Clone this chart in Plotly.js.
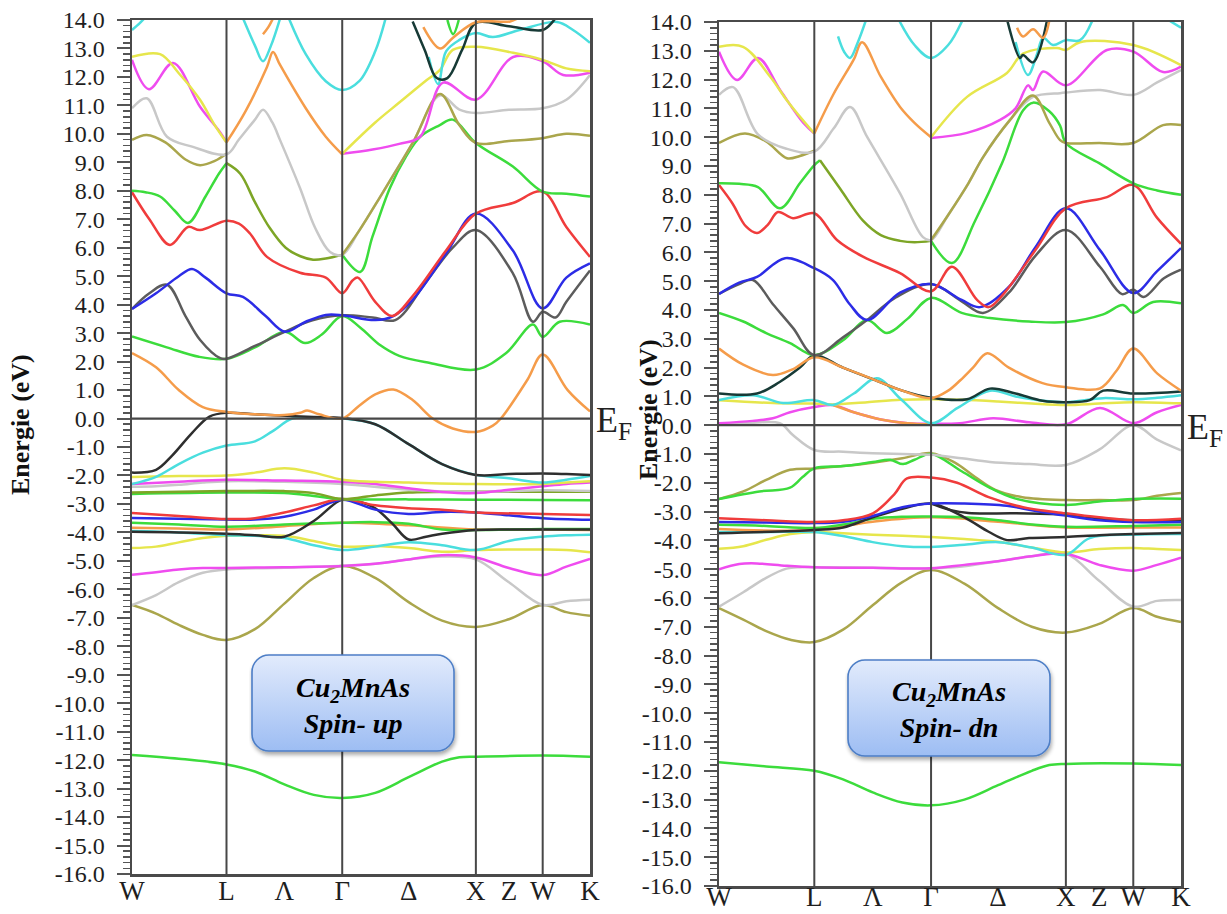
<!DOCTYPE html>
<html>
<head>
<meta charset="utf-8">
<script src="https://cdn.plot.ly/plotly-3.0.1.min.js"></script>
<style>html,body{margin:0;padding:0;background:#fff}#chart{width:1227px;height:914px}</style>
</head>
<body>
<div id="chart"></div>
<script>
// ---------- k-path (high-symmetry points) ----------
const kTickVals = [0, 0.707, 1.14, 1.573, 2.07, 2.573, 2.82, 3.073, 3.427];
const kTickText = ['W', 'L', 'Λ', 'Γ', 'Δ', 'X', 'Z', 'W', 'K'];
const kLines = [0.707, 1.573, 2.573, 3.073];
const eRange = [-16, 14];

// ---------- Spin-up bands: [k, E(eV)] ----------
const up_green_low = [[0,-11.82],[0.35,-11.95],[0.707,-12.15],[0.92,-12.4],[1.14,-12.85],[1.36,-13.22],[1.573,-13.33],[1.82,-13.15],[2.07,-12.6],[2.32,-12.05],[2.45,-11.9],[2.573,-11.88],[3.073,-11.84],[3.427,-11.88]];
const up_khaki_low = [[0,-6.55],[0.18,-6.85],[0.35,-7.25],[0.53,-7.6],[0.707,-7.78],[0.92,-7.4],[1.14,-6.5],[1.36,-5.6],[1.573,-5.18],[1.82,-5.6],[2.07,-6.45],[2.32,-7.1],[2.573,-7.32],[2.82,-7.05],[3.073,-6.55],[3.25,-6.8],[3.427,-6.93]];
const up_gray_low = [[0,-6.55],[0.18,-6.2],[0.35,-5.75],[0.53,-5.42],[0.707,-5.3],[1.14,-5.24],[1.573,-5.17],[1.82,-5.1],[2.07,-4.95],[2.32,-4.85],[2.573,-4.95],[2.82,-5.75],[3.073,-6.55],[3.25,-6.42],[3.427,-6.37]];
const up_magenta_low = [[0,-5.49],[0.18,-5.4],[0.35,-5.3],[0.53,-5.25],[0.707,-5.25],[1.14,-5.22],[1.573,-5.18],[1.82,-5.1],[2.07,-4.95],[2.32,-4.8],[2.573,-4.88],[2.82,-5.25],[3.073,-5.5],[3.25,-5.2],[3.427,-4.93]];
const up_yellow_low = [[0,-4.55],[0.18,-4.5],[0.35,-4.35],[0.53,-4.2],[0.707,-4.12],[0.92,-4.1],[1.14,-4.12],[1.36,-4.3],[1.573,-4.5],[1.82,-4.48],[2.07,-4.55],[2.32,-4.68],[2.573,-4.62],[2.82,-4.6],[3.073,-4.6],[3.25,-4.62],[3.427,-4.7]];
const up_cyan_low = [[0,-3.95],[0.35,-4.0],[0.707,-4.1],[0.92,-4.12],[1.14,-4.2],[1.36,-4.45],[1.573,-4.62],[1.82,-4.5],[2.07,-4.35],[2.32,-4.45],[2.573,-4.62],[2.82,-4.3],[3.073,-4.15],[3.25,-4.1],[3.427,-4.08]];
const up_black_low = [[0,-3.98],[0.35,-4.0],[0.707,-4.05],[0.92,-4.1],[1.14,-4.15],[1.36,-3.6],[1.573,-2.85],[1.72,-2.95],[1.82,-3.15],[1.95,-3.7],[2.07,-4.25],[2.2,-4.15],[2.32,-4.05],[2.573,-3.92],[2.82,-3.9],[3.073,-3.9],[3.427,-3.9]];
const up_orange_mid = [[0,-3.84],[0.35,-3.86],[0.707,-3.9],[1.14,-3.78],[1.573,-3.66],[2.07,-3.75],[2.573,-3.9],[3.073,-3.9],[3.427,-3.92]];
const up_green_mid = [[0,-3.66],[0.35,-3.72],[0.707,-3.8],[1.14,-3.72],[1.573,-3.66],[1.82,-3.64],[2.07,-3.7],[2.32,-3.9],[2.573,-3.92],[3.073,-3.88],[3.427,-3.88]];
const up_blue_low = [[0,-3.49],[0.35,-3.52],[0.707,-3.55],[0.92,-3.55],[1.14,-3.45],[1.36,-3.2],[1.573,-2.85],[1.82,-3.2],[2.07,-3.35],[2.32,-3.28],[2.573,-3.3],[2.82,-3.4],[3.073,-3.5],[3.427,-3.56]];
const up_red_low = [[0,-3.32],[0.35,-3.42],[0.707,-3.53],[0.92,-3.5],[1.14,-3.3],[1.36,-3.05],[1.573,-2.83],[1.82,-3.05],[2.07,-3.15],[2.32,-3.2],[2.573,-3.3],[3.073,-3.35],[3.427,-3.39]];
const up_green_2 = [[0,-2.65],[0.707,-2.6],[1.14,-2.62],[1.36,-2.72],[1.573,-2.83],[2.07,-2.84],[2.573,-2.85],[3.073,-2.86],[3.427,-2.87]];
const up_olivegreen_low = [[0,-2.6],[0.707,-2.55],[1.14,-2.55],[1.36,-2.62],[1.573,-2.83],[1.82,-2.7],[2.07,-2.6],[2.573,-2.57],[3.073,-2.57],[3.427,-2.57]];
const up_gray_2 = [[0,-2.4],[0.18,-2.38],[0.35,-2.33],[0.53,-2.25],[0.707,-2.2],[1.14,-2.22],[1.573,-2.3],[2.07,-2.5],[2.573,-2.58],[3.073,-2.52],[3.427,-2.55]];
const up_magenta_2 = [[0,-2.3],[0.35,-2.22],[0.707,-2.15],[1.14,-2.18],[1.573,-2.22],[1.82,-2.3],[2.07,-2.45],[2.32,-2.58],[2.573,-2.62],[2.82,-2.5],[3.073,-2.38],[3.25,-2.3],[3.427,-2.25]];
const up_yellow_2 = [[0,-2.05],[0.35,-2.02],[0.707,-2.0],[0.92,-1.9],[1.14,-1.75],[1.36,-1.9],[1.573,-2.15],[1.82,-2.22],[2.07,-2.25],[2.573,-2.3],[3.073,-2.3],[3.25,-2.25],[3.427,-2.2]];
const up_cyan_2 = [[0,-2.3],[0.18,-2.05],[0.35,-1.6],[0.53,-1.2],[0.707,-0.95],[0.92,-0.8],[1.05,-0.45],[1.2,0.0],[1.36,0.02],[1.573,0.0],[1.82,-0.2],[2.07,-0.9],[2.32,-1.6],[2.573,-1.98],[2.82,-2.1],[3.073,-2.25],[3.25,-2.15],[3.427,-2.02]];
const up_black_1 = [[0,-1.9],[0.18,-1.8],[0.3,-1.3],[0.45,-0.5],[0.58,0.07],[0.707,0.2],[0.92,0.15],[1.14,0.1],[1.36,0.05],[1.573,0.02],[1.82,-0.2],[2.07,-0.9],[2.32,-1.6],[2.573,-1.98],[2.82,-1.95],[3.073,-1.93],[3.25,-1.95],[3.427,-1.98]];
const up_orange_low = [[0,2.3],[0.18,1.8],[0.35,1.0],[0.53,0.4],[0.707,0.23],[0.92,0.15],[1.14,0.12],[1.26,0.2],[1.31,0.28],[1.4,0.15],[1.573,0.0],[1.7,0.45],[1.82,0.85],[1.955,1.02],[2.1,0.65],[2.25,0.0],[2.4,-0.35],[2.573,-0.47],[2.7,-0.25],[2.76,0.0],[2.96,1.37],[3.073,2.25],[3.26,1.0],[3.427,0.25]];
const up_green_c = [[0,2.88],[0.26,2.5],[0.5,2.17],[0.707,2.1],[0.92,2.5],[1.145,3.05],[1.295,2.65],[1.42,2.95],[1.573,3.6],[1.707,3.2],[1.856,2.58],[2.0,2.2],[2.23,1.95],[2.573,1.72],[2.8,2.3],[3.0,3.3],[3.073,2.87],[3.2,3.4],[3.427,3.3]];
const up_darkgray_c = [[0,3.85],[0.13,4.4],[0.262,4.7],[0.4,3.6],[0.51,2.76],[0.66,2.12],[0.707,2.1],[0.92,2.55],[1.145,3.05],[1.35,3.45],[1.573,3.63],[1.8,3.55],[1.97,3.46],[2.2,4.8],[2.4,6.0],[2.573,6.62],[2.85,5.1],[3.0,3.4],[3.073,3.75],[3.17,3.55],[3.25,4.1],[3.427,5.2]];
const up_blue_c = [[0,3.85],[0.18,4.4],[0.35,5.0],[0.449,5.25],[0.55,4.95],[0.707,4.4],[0.83,4.27],[1.0,3.6],[1.145,3.05],[1.3,3.4],[1.45,3.64],[1.573,3.63],[1.82,3.46],[1.955,3.6],[2.1,4.17],[2.35,5.8],[2.573,7.2],[2.85,5.9],[3.073,3.87],[3.25,4.95],[3.427,5.45]];
const up_red_c = [[0,7.95],[0.13,7.0],[0.284,6.1],[0.419,6.73],[0.509,6.62],[0.707,6.95],[0.8,6.85],[0.883,6.5],[1.01,5.68],[1.257,5.12],[1.45,4.95],[1.573,4.4],[1.65,4.85],[1.69,4.95],[1.82,4.1],[1.946,3.6],[2.1,4.3],[2.35,5.9],[2.573,7.2],[2.85,7.57],[3.073,7.97],[3.25,6.73],[3.427,5.68]];
const up_green_a = [[0,8.0],[0.1,7.95],[0.21,7.8],[0.32,7.3],[0.419,6.87],[0.55,7.8],[0.65,8.6],[0.707,8.97]];
const up_olivegreen_a = [[0.707,8.97],[0.81,8.6],[0.92,7.6],[1.03,6.7],[1.15,6.0],[1.26,5.7],[1.355,5.58],[1.45,5.62],[1.573,5.75]];
const up_green_b = [[1.573,5.75],[1.707,5.15],[1.8,6.4],[1.93,8.1],[2.05,9.2],[2.156,9.9],[2.3,10.3],[2.4,10.5],[2.573,9.68],[2.85,8.85],[3.073,7.97],[3.25,7.9],[3.427,7.8]];
const up_khaki_a = [[0,9.79],[0.11,9.96],[0.25,9.7],[0.4,9.1],[0.509,8.9],[0.62,9.05],[0.707,9.3]];
const up_khaki_b = [[1.573,5.75],[1.7,6.6],[1.856,7.78],[2.1,9.68],[2.305,11.4],[2.45,10.3],[2.573,9.68],[2.82,9.75],[3.073,9.85],[3.25,10.0],[3.427,9.93]];
const up_gray_high = [[0,10.9],[0.11,11.25],[0.262,9.9],[0.45,9.55],[0.707,9.28],[0.8,9.8],[0.92,10.5],[0.981,10.85],[1.05,10.4],[1.108,9.78],[1.257,8.1],[1.37,6.7],[1.482,5.85],[1.573,5.75],[1.7,6.6],[1.856,7.78],[2.1,9.68],[2.305,11.35],[2.45,10.85],[2.573,10.73],[2.82,10.85],[3.073,10.9],[3.25,11.2],[3.427,12.07]];
const up_magenta_high = [[0,12.6],[0.127,11.57],[0.307,12.49],[0.509,10.95],[0.66,10.05],[0.707,9.7],[1.0,null],[1.573,9.3],[1.8,9.45],[2.0,9.65],[2.156,9.9],[2.328,11.8],[2.573,11.2],[2.852,12.7],[3.073,12.55],[3.226,12.07],[3.427,12.15]];
const up_yellow_high = [[0,12.71],[0.21,12.8],[0.35,12.13],[0.509,11.2],[0.62,10.3],[0.707,9.7],[1.0,null],[1.573,9.3],[1.82,10.4],[2.0,11.1],[2.208,11.9],[2.305,12.25],[2.4,12.95],[2.573,13.06],[2.852,12.85],[3.073,12.6],[3.25,12.3],[3.427,12.2]];
const up_orange_high = [[0.707,9.7],[0.85,10.8],[1.01,12.35],[1.055,12.88],[1.108,12.42],[1.3,10.9],[1.45,9.9],[1.573,9.28]];
const up_cyan_top = [[0,13.65],[0.06,13.9],[0.12,14.2],[0.2,null],[0.8,14.4],[0.92,13.1],[0.98,12.55],[1.04,13.1],[1.13,14.4],[1.15,null],[1.17,14.1],[1.3,12.8],[1.45,11.85],[1.573,11.54],[1.7,11.85],[1.82,12.9],[1.9,14.1]];
const up_cyan_x = [[2.22,12.7],[2.29,11.75],[2.35,12.9],[2.45,13.3],[2.573,13.54],[2.7,13.4],[2.9,13.65],[3.18,13.93],[3.3,13.65],[3.427,13.2]];
const up_teal = [[2.1,13.95],[2.19,12.95],[2.28,11.96],[2.36,11.96],[2.47,12.95],[2.573,13.9],[2.82,13.78],[3.073,13.65],[3.15,13.95],[3.2,14.3]];
const up_orange_top = [[0.98,13.5],[1.02,13.75],[1.06,14.1],[1.1,null],[2.18,13.75],[2.305,13.0],[2.4,13.37],[2.573,13.92],[2.83,13.95],[2.9,14.1]];
const up_green_top = [[2.36,14.0],[2.403,13.5],[2.445,14.0]];

// ---------- Spin-down bands: [k, E(eV)] ----------
const dn_green_low = [[0,-11.7],[0.35,-11.85],[0.707,-12.0],[0.92,-12.3],[1.14,-12.75],[1.36,-13.1],[1.573,-13.2],[1.82,-13.0],[2.07,-12.5],[2.32,-12.0],[2.45,-11.8],[2.573,-11.76],[3.073,-11.75],[3.427,-11.8]];
const dn_khaki_low = [[0,-6.35],[0.18,-6.75],[0.35,-7.15],[0.53,-7.45],[0.707,-7.53],[0.92,-7.1],[1.14,-6.25],[1.36,-5.45],[1.573,-5.03],[1.82,-5.5],[2.07,-6.35],[2.32,-7.0],[2.573,-7.2],[2.82,-6.9],[3.073,-6.35],[3.25,-6.65],[3.427,-6.83]];
const dn_gray_low = [[0,-6.3],[0.18,-5.8],[0.35,-5.3],[0.5,-4.98],[0.6,-4.93],[0.707,-4.93],[1.14,-4.95],[1.573,-4.97],[1.82,-4.9],[2.07,-4.72],[2.32,-4.55],[2.573,-4.46],[2.82,-5.4],[3.073,-6.3],[3.25,-6.1],[3.427,-6.07]];
const dn_magenta_low = [[0,-5.0],[0.15,-4.82],[0.28,-4.8],[0.5,-4.88],[0.707,-4.93],[1.14,-4.95],[1.573,-4.97],[1.82,-4.85],[2.07,-4.72],[2.32,-4.55],[2.573,-4.46],[2.82,-4.85],[3.073,-5.05],[3.25,-4.85],[3.427,-4.6]];
const dn_yellow_low = [[0,-4.29],[0.18,-4.2],[0.35,-3.98],[0.53,-3.78],[0.707,-3.71],[0.92,-3.75],[1.14,-3.8],[1.573,-3.88],[1.82,-3.95],[2.07,-4.05],[2.32,-4.25],[2.573,-4.42],[2.82,-4.3],[3.073,-4.26],[3.25,-4.3],[3.427,-4.33]];
const dn_cyan_low = [[0,-3.71],[0.35,-3.71],[0.707,-3.71],[0.92,-3.85],[1.14,-4.06],[1.36,-4.2],[1.573,-4.23],[1.82,-4.15],[2.07,-4.06],[2.32,-4.25],[2.573,-4.5],[2.75,-3.92],[3.073,-3.8],[3.427,-3.78]];
const dn_dark_1 = [[0,-3.75],[0.707,-3.64],[0.92,-3.55],[1.14,-3.2],[1.36,-2.9],[1.573,-2.72],[1.82,-3.2],[2.0,-3.7],[2.136,-3.99],[2.3,-3.92],[2.573,-3.88],[2.82,-3.82],[3.073,-3.78],[3.427,-3.74]];
const dn_dark_2 = [[1.573,-2.72],[1.72,-2.95],[1.85,-3.05],[2.2,-3.06],[2.573,-3.1],[2.85,-3.25],[3.073,-3.3],[3.427,-3.3]];
const dn_orange_mid = [[0,-3.6],[0.707,-3.64],[1.14,-3.35],[1.573,-3.2],[2.07,-3.35],[2.573,-3.55],[3.073,-3.55],[3.427,-3.55]];
const dn_green_mid = [[0,-3.46],[0.35,-3.5],[0.707,-3.57],[0.92,-3.45],[1.14,-3.25],[1.36,-3.18],[1.573,-3.17],[1.82,-3.2],[2.07,-3.3],[2.32,-3.45],[2.573,-3.53],[3.073,-3.5],[3.427,-3.46]];
const dn_blue_low = [[0,-3.36],[0.35,-3.38],[0.707,-3.4],[0.92,-3.35],[1.14,-3.15],[1.36,-2.85],[1.573,-2.72],[1.82,-2.72],[2.136,-2.8],[2.32,-2.95],[2.573,-3.14],[2.82,-3.3],[3.073,-3.36],[3.427,-3.36]];
const dn_red_low = [[0,-3.23],[0.35,-3.3],[0.707,-3.36],[0.92,-3.3],[1.142,-3.06],[1.3,-2.4],[1.395,-1.85],[1.573,-1.82],[1.766,-2.0],[2.0,-2.5],[2.255,-2.85],[2.573,-3.06],[2.82,-3.2],[3.073,-3.3],[3.427,-3.25]];
const dn_khaki_a = [[0,-2.56],[0.18,-2.3],[0.35,-1.9],[0.527,-1.55],[0.707,-1.5],[0.92,-1.42],[1.14,-1.3],[1.36,-1.15],[1.573,-0.97],[1.75,-1.3],[1.9,-1.8],[2.05,-2.25],[2.25,-2.5],[2.573,-2.6],[2.82,-2.6],[3.073,-2.6],[3.25,-2.45],[3.427,-2.35]];
const dn_green_a = [[0,-2.56],[0.3,-2.3],[0.527,-2.17],[0.62,-1.8],[0.707,-1.5],[0.92,-1.42],[1.14,-1.28],[1.269,-1.2],[1.365,-1.35],[1.45,-1.2],[1.573,-1.0],[1.8,-1.6],[2.0,-2.15],[2.2,-2.55],[2.573,-2.77],[2.82,-2.65],[3.073,-2.56],[3.427,-2.55]];
const dn_gray_neg = [[0,0.07],[0.2,0.07],[0.45,0.07],[0.55,-0.35],[0.707,-0.86],[0.92,-0.92],[1.14,-0.97],[1.36,-1.0],[1.573,-1.03],[1.8,-1.15],[2.01,-1.28],[2.3,-1.35],[2.573,-1.38],[2.82,-0.85],[3.073,0.0],[3.25,-0.5],[3.427,-0.87]];
const dn_magenta_0 = [[0,0.07],[0.25,0.15],[0.4,0.24],[0.527,0.45],[0.707,0.63],[0.846,0.7],[1.0,0.45],[1.2,0.2],[1.4,0.07],[1.573,0.05],[1.788,0.07],[2.033,0.24],[2.3,0.1],[2.573,0.03],[2.826,0.6],[3.073,0.07],[3.25,0.45],[3.427,0.7]];
const dn_orange_0 = [[0.846,0.7],[1.0,0.45],[1.2,0.2],[1.4,0.07],[1.573,0.03]];
const dn_cyan_0 = [[0,0.87],[0.252,1.04],[0.475,0.77],[0.707,0.87],[0.846,0.7],[1.0,1.1],[1.172,1.63],[1.35,0.9],[1.573,0.07],[1.77,0.6],[2.01,1.2],[2.2,1.0],[2.4,0.85],[2.573,0.8],[2.849,0.94],[3.073,0.9],[3.25,0.95],[3.427,1.04]];
const dn_yellow_0 = [[0,0.87],[0.4,0.77],[0.707,0.75],[0.846,0.72],[1.1,0.8],[1.35,0.88],[1.573,0.9],[1.8,0.88],[2.07,0.82],[2.32,0.75],[2.573,0.7],[2.82,0.75],[3.073,0.8],[3.427,0.76]];
const dn_dark_0 = [[0,1.1],[0.282,1.1],[0.45,1.5],[0.6,2.0],[0.707,2.43],[0.92,2.0],[1.14,1.6],[1.36,1.2],[1.573,0.95],[1.84,0.9],[2.01,1.27],[2.2,1.1],[2.4,0.85],[2.573,0.8],[2.75,0.87],[2.85,1.2],[3.073,1.1],[3.427,1.17]];
const dn_orange_low = [[0,2.66],[0.18,2.1],[0.4,1.74],[0.55,1.95],[0.707,2.36],[0.92,2.0],[1.14,1.6],[1.36,1.2],[1.573,0.94],[1.7,1.2],[1.79,1.56],[1.884,2.0],[1.99,2.5],[2.15,2.0],[2.4,1.46],[2.573,1.32],[2.826,1.28],[2.95,1.9],[3.073,2.66],[3.25,1.8],[3.427,1.2]];
const dn_green_c = [[0,3.9],[0.18,3.6],[0.35,3.2],[0.527,2.85],[0.707,2.43],[0.92,2.95],[1.098,3.65],[1.246,3.2],[1.4,3.7],[1.573,4.42],[1.8,3.9],[2.01,3.72],[2.3,3.6],[2.573,3.58],[2.85,3.85],[2.997,4.17],[3.073,3.9],[3.22,4.28],[3.427,4.23]];
const dn_darkgray_c = [[0,4.56],[0.15,4.9],[0.252,5.04],[0.4,4.2],[0.55,3.37],[0.707,2.43],[0.92,3.05],[1.098,3.65],[1.3,4.4],[1.573,4.9],[1.8,4.3],[1.958,3.9],[2.15,4.6],[2.35,5.9],[2.573,6.78],[2.826,5.5],[2.99,4.55],[3.073,4.7],[3.15,4.45],[3.3,5.1],[3.427,5.4]];
const dn_blue_c = [[0,4.56],[0.15,4.95],[0.282,5.15],[0.49,5.8],[0.707,5.45],[0.846,5.04],[0.97,4.2],[1.098,3.65],[1.343,4.6],[1.573,4.9],[1.8,4.35],[1.936,4.1],[2.15,4.8],[2.35,6.2],[2.573,7.53],[2.826,6.08],[3.073,4.59],[3.25,5.35],[3.427,6.15]];
const dn_red_c = [[0,8.34],[0.1,7.7],[0.2,6.9],[0.282,6.67],[0.36,6.95],[0.438,7.4],[0.549,7.19],[0.707,7.36],[0.875,6.43],[1.068,5.85],[1.343,5.28],[1.573,4.65],[1.728,5.5],[1.914,4.35],[2.0,4.1],[2.1,4.5],[2.35,6.1],[2.573,7.53],[2.878,7.92],[3.073,8.34],[3.25,7.2],[3.427,6.3]];
const dn_green_a_hi = [[0,8.4],[0.15,8.38],[0.289,8.27],[0.453,7.53],[0.6,8.4],[0.707,9.03],[0.749,9.2]];
const dn_olivegreen_a = [[0.749,9.2],[0.9,8.2],[1.068,7.1],[1.2,6.6],[1.343,6.4],[1.45,6.35],[1.573,6.4]];
const dn_green_b = [[1.573,6.4],[1.728,5.63],[1.9,7.1],[2.1,9.1],[2.255,10.93],[2.33,11.2],[2.45,10.9],[2.53,10.4],[2.573,9.8],[2.82,9.1],[3.073,8.4],[3.25,8.15],[3.427,8.0]];
const dn_khaki_a_hi = [[0,9.8],[0.193,10.13],[0.35,9.85],[0.504,9.27],[0.6,9.35],[0.707,9.53]];
const dn_khaki_b = [[1.573,6.43],[1.7,7.3],[1.85,8.4],[1.958,9.3],[2.159,10.6],[2.329,11.45],[2.45,10.5],[2.53,9.9],[2.573,9.8],[2.82,9.8],[3.073,9.8],[3.294,10.42],[3.427,10.42]];
const dn_gray_high = [[0,11.47],[0.104,11.74],[0.289,10.1],[0.5,9.6],[0.707,9.5],[0.85,10.3],[0.972,11.05],[1.1,10.0],[1.343,8.05],[1.513,6.53],[1.573,6.43],[1.7,7.3],[1.85,8.4],[1.958,9.3],[2.159,10.6],[2.329,11.4],[2.53,11.53],[2.573,11.55],[2.826,11.64],[3.073,11.47],[3.25,11.9],[3.427,12.33]];
const dn_magenta_high = [[0,12.97],[0.134,11.99],[0.289,12.75],[0.453,11.64],[0.625,10.5],[0.707,10.13],[1.0,null],[1.573,9.97],[1.84,10.15],[2.085,10.6],[2.2,11.0],[2.292,11.8],[2.329,11.64],[2.404,12.28],[2.573,11.8],[2.878,13.03],[3.073,12.97],[3.294,12.26],[3.427,12.45]];
const dn_yellow_high = [[0,13.14],[0.178,13.14],[0.38,12.1],[0.5,11.3],[0.62,10.6],[0.707,10.13],[1.0,null],[1.573,10.0],[1.84,11.4],[2.136,12.23],[2.255,12.9],[2.507,13.1],[2.573,13.03],[2.678,13.3],[3.073,13.2],[3.427,12.5]];
const dn_orange_high = [[0.707,10.13],[0.85,11.5],[1.0,12.7],[1.061,13.3],[1.2,12.1],[1.343,11.05],[1.45,10.5],[1.573,10.0]];
const dn_cyan_top = [[0.883,13.5],[0.93,12.95],[0.972,12.75],[1.03,13.3],[1.1,14.2],[1.15,null],[1.32,14.2],[1.45,13.2],[1.573,12.75],[1.7,13.2],[1.81,14.1],[1.9,null],[2.2,13.3],[2.292,12.16],[2.36,12.9],[2.404,13.45],[2.478,13.2],[2.573,13.37],[2.678,13.37],[2.774,14.1],[2.8,null],[3.34,14.05],[3.427,13.8]];
const dn_teal = [[2.136,14.1],[2.233,12.75],[2.255,12.85],[2.33,12.6],[2.433,14.05]];
const dn_orange_top = [[2.211,13.8],[2.255,13.5],[2.33,13.75],[2.404,13.45],[2.45,14.05]];

// ---------- colours ----------
const COL = {green:'#3cdc3c', khaki:'#aaa64c', gray:'#c8c8c8', yellow:'#e6e64c', magenta:'#ef4cef',
  red:'#f03c3c', blue:'#2c2ce6', dgray:'#5c5c5c', orange:'#f59c4a', cyan:'#4adede', teal:'#173a36',
  olivegreen:'#7da526', black:'#2e2e2e'};

const upBands = [
  [up_green_low,'green'],[up_khaki_low,'khaki'],[up_gray_low,'gray'],[up_magenta_low,'magenta'],
  [up_yellow_low,'yellow'],[up_cyan_low,'cyan'],[up_orange_mid,'orange'],[up_green_mid,'green'],
  [up_black_low,'black'],[up_blue_low,'blue'],[up_red_low,'red'],[up_green_2,'green'],[up_olivegreen_low,'olivegreen'],
  [up_gray_2,'gray'],[up_magenta_2,'magenta'],[up_yellow_2,'yellow'],[up_cyan_2,'cyan'],[up_black_1,'black'],
  [up_orange_low,'orange'],[up_green_c,'green'],[up_darkgray_c,'dgray'],[up_blue_c,'blue'],[up_red_c,'red'],
  [up_green_a,'green'],[up_olivegreen_a,'olivegreen'],[up_green_b,'green'],[up_khaki_a,'khaki'],
  [up_gray_high,'gray'],[up_khaki_b,'khaki'],[up_magenta_high,'magenta'],[up_yellow_high,'yellow'],
  [up_orange_high,'orange'],[up_cyan_top,'cyan'],[up_cyan_x,'cyan'],[up_teal,'teal'],[up_orange_top,'orange'],[up_green_top,'green']
];
const dnBands = [
  [dn_green_low,'green'],[dn_khaki_low,'khaki'],[dn_gray_low,'gray'],[dn_magenta_low,'magenta'],
  [dn_yellow_low,'yellow'],[dn_cyan_low,'cyan'],[dn_orange_mid,'orange'],[dn_green_mid,'green'],
  [dn_dark_1,'black'],[dn_dark_2,'black'],[dn_blue_low,'blue'],[dn_red_low,'red'],[dn_khaki_a,'khaki'],[dn_green_a,'green'],
  [dn_gray_neg,'gray'],[dn_magenta_0,'magenta'],[dn_orange_0,'orange'],[dn_yellow_0,'yellow'],[dn_cyan_0,'cyan'],
  [dn_dark_0,'teal'],[dn_orange_low,'orange'],[dn_green_c,'green'],[dn_darkgray_c,'dgray'],[dn_blue_c,'blue'],[dn_red_c,'red'],
  [dn_green_a_hi,'green'],[dn_olivegreen_a,'olivegreen'],[dn_green_b,'green'],[dn_khaki_a_hi,'khaki'],
  [dn_gray_high,'gray'],[dn_khaki_b,'khaki'],[dn_magenta_high,'magenta'],[dn_yellow_high,'yellow'],
  [dn_orange_high,'orange'],[dn_cyan_top,'cyan'],[dn_teal,'teal'],[dn_orange_top,'orange']
];

function bandTrace(pts, colorKey, xa, ya) {
  return {type:'scatter', mode:'lines', x: pts.map(p=>p[0]), y: pts.map(p=>p[1]),
    xaxis: xa, yaxis: ya, connectgaps:false, hoverinfo:'skip', showlegend:false,
    line:{color: COL[colorKey], width: 2.5, shape:'spline', smoothing: 1}};
}
function frameTraces(xa, ya) {
  const out = [];
  kLines.forEach(k => out.push({type:'scatter', mode:'lines', x:[k,k], y:eRange, xaxis:xa, yaxis:ya,
    hoverinfo:'skip', showlegend:false, line:{color:'#474747', width:2}}));
  out.push({type:'scatter', mode:'lines', x:[kTickVals[0], kTickVals[kTickVals.length-1]], y:[0,0], xaxis:xa, yaxis:ya,
    hoverinfo:'skip', showlegend:false, line:{color:'#474747', width:2.2}});
  return out;
}

const traces = [];
upBands.forEach(b => traces.push(bandTrace(b[0], b[1], 'x', 'y')));
traces.push(...frameTraces('x','y'));
dnBands.forEach(b => traces.push(bandTrace(b[0], b[1], 'x2', 'y2')));
traces.push(...frameTraces('x2','y2'));

// y tick labels (hyphen minus as in the figure)
const yTickVals = [];
const yTickText = [];
for (let v = eRange[0]; v <= eRange[1]; v++) { yTickVals.push(v); yTickText.push(v.toFixed(1)); }

const serif = '"Liberation Serif", "Times New Roman", serif';
function xAxis(domain, anchor, standoff) {
  return {domain, anchor, range:[0, 3.427], tickmode:'array', tickvals:kTickVals, ticktext:kTickText,
    ticks:'', showline:true, mirror:true, linecolor:'#4a4a4a', linewidth:2.5, showgrid:false, zeroline:false,
    tickfont:{family:serif, size:27, color:'#1e1e1e'}, ticklabelstandoff:standoff};
}
function yAxis(domain, anchor) {
  return {domain, anchor, range:eRange, tickmode:'array', tickvals:yTickVals, ticktext:yTickText,
    ticks:'outside', ticklen:13, tickwidth:2, tickcolor:'#555',
    minor:{dtick:0.2, tick0:0, ticks:'outside', ticklen:7, tickwidth:1.5, tickcolor:'#555'},
    showline:true, mirror:true, linecolor:'#4a4a4a', linewidth:2.5, showgrid:false, zeroline:false,
    tickfont:{family:serif, size:24, color:'#1e1e1e'}, ticklabelstandoff:7};
}

const boxSvg = "<svg xmlns='http://www.w3.org/2000/svg' width='212' height='108' viewBox='0 0 212 108'>" +
  "<defs><linearGradient id='g' x1='0' y1='0' x2='0' y2='1'><stop offset='0' stop-color='#e2ebfc'/><stop offset='1' stop-color='#9dbdf3'/></linearGradient>" +
  "<filter id='s' x='-10%' y='-10%' width='130%' height='140%'><feGaussianBlur in='SourceAlpha' stdDeviation='2'/><feOffset dx='1' dy='3' result='o'/>" +
  "<feComponentTransfer><feFuncA type='linear' slope='0.35'/></feComponentTransfer><feMerge><feMergeNode/><feMergeNode in='SourceGraphic'/></feMerge></filter></defs>" +
  "<rect x='3' y='2' width='202' height='96' rx='17' ry='17' fill='url(#g)' stroke='#4d7ec6' stroke-width='1.6' filter='url(#s)'/></svg>";
const boxUri = 'data:image/svg+xml;charset=utf-8,' + encodeURIComponent(boxSvg);

const W = 1227, H = 914;
const px = x => x / W, py = y => 1 - y / H;

const layout = {
  width: W, height: H, margin:{l:0, r:0, t:0, b:0}, paper_bgcolor:'#fff', plot_bgcolor:'#fff', showlegend:false,
  xaxis: xAxis([px(132), px(590)], 'y', -9),
  yaxis: yAxis([py(874), py(20)], 'x'),
  xaxis2: xAxis([px(719), px(1181)], 'y2', -15),
  yaxis2: yAxis([py(886), py(22)], 'x2'),
  images: [
    {source: boxUri, xref:'paper', yref:'paper', x:px(249), y:py(653), sizex:212/W, sizey:108/H, xanchor:'left', yanchor:'top', sizing:'stretch', layer:'above'},
    {source: boxUri, xref:'paper', yref:'paper', x:px(845), y:py(658), sizex:212/W, sizey:108/H, xanchor:'left', yanchor:'top', sizing:'stretch', layer:'above'}
  ],
  annotations: [
    {xref:'paper', yref:'paper', x:px(20), y:py(425), xanchor:'center', yanchor:'middle', text:'<b>Energie (eV)</b>', textangle:-90, showarrow:false,
      font:{family:serif, size:26, color:'#111'}},
    {xref:'paper', yref:'paper', x:px(648), y:py(410), xanchor:'center', yanchor:'middle', text:'<b>Energie (eV)</b>', textangle:-90, showarrow:false,
      font:{family:serif, size:26, color:'#111'}},
    {xref:'paper', yref:'y', x:px(594), y:0, xanchor:'left', yanchor:'middle', yshift:-4, text:'E<sub>F</sub>', showarrow:false,
      font:{family:serif, size:36, color:'#222'}},
    {xref:'paper', yref:'y2', x:px(1185), y:0, xanchor:'left', yanchor:'middle', yshift:-4, text:'E<sub>F</sub>', showarrow:false,
      font:{family:serif, size:36, color:'#222'}},
    {xref:'paper', yref:'paper', x:px(353), y:py(705), xanchor:'center', yanchor:'middle', text:'<b><i>Cu<sub>2</sub>MnAs</i></b><br><b><i>Spin- up</i></b>', showarrow:false,
      font:{family:serif, size:28, color:'#000'}},
    {xref:'paper', yref:'paper', x:px(949), y:py(709), xanchor:'center', yanchor:'middle', text:'<b><i>Cu<sub>2</sub>MnAs</i></b><br><b><i>Spin- dn</i></b>', showarrow:false,
      font:{family:serif, size:28, color:'#000'}}
  ]
};

Plotly.newPlot('chart', traces, layout, {staticPlot:true, displayModeBar:false});
</script>
</body>
</html>
